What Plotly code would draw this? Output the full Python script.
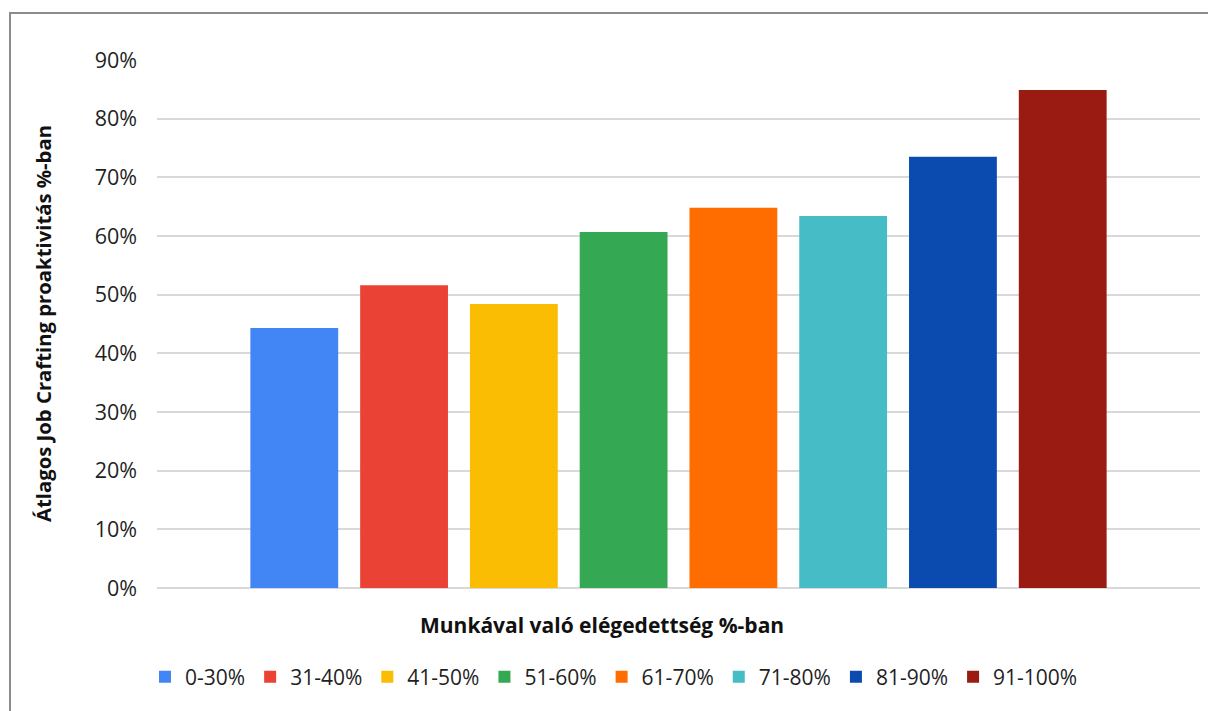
import plotly.graph_objects as go

# ---- data ----
groups = ["0-30%", "31-40%", "41-50%", "51-60%", "61-70%", "71-80%", "81-90%", "91-100%"]
values = [0.443, 0.516, 0.484, 0.607, 0.648, 0.634, 0.735, 0.849]
colors = ["#4285F4", "#EA4335", "#FBBC04", "#34A853", "#FF6D01", "#46BDC6", "#0B4BB0", "#9A1B11"]
category = ["Munkával való elégedettség"]
y_ticks = [0, 0.1, 0.2, 0.3, 0.4, 0.5, 0.6, 0.7, 0.8, 0.9]

x_title = "Munkával való elégedettség %-ban"
y_title = "Átlagos Job Crafting proaktivitás %-ban"

# ---- layout geometry (pixels) ----
W, H = 1208, 711
ML, MR, MT, MB = 157, 8, 60, 123
PW, PH = W - ML - MR, H - MT - MB


def px_x(p):
    return (p - ML) / PW


def px_y(p):
    return (H - MB - p) / PH


FONT = "Open Sans"
TXT = "#1f1f1f"

fig = go.Figure()
for g, v, c in zip(groups, values, colors):
    fig.add_trace(go.Bar(x=category, y=[v], name=g, marker=dict(color=c, line=dict(width=0))))

fig.update_layout(
    width=W, height=H,
    margin=dict(l=ML, r=MR, t=MT, b=MB),
    paper_bgcolor="white", plot_bgcolor="white",
    barmode="group", bargap=0.158, bargroupgap=0.2,
    font=dict(family=FONT, size=21, color=TXT),
    showlegend=True,
    legend=dict(orientation="h", x=px_x(614), xanchor="center", y=px_y(677), yanchor="middle",
                font=dict(family=FONT, size=21, color=TXT), traceorder="normal",
                itemclick=False, bgcolor="rgba(0,0,0,0)"),
    xaxis=dict(showticklabels=False, showgrid=False, zeroline=False, showline=False, ticks=""),
    yaxis=dict(range=[0, 0.9], tickvals=y_ticks, tickformat=".0%", showgrid=True,
               gridcolor="#d9d9d9", gridwidth=2, zeroline=True, zerolinecolor="#d9d9d9",
               zerolinewidth=2, showline=False, ticks="", ticklabelstandoff=19,
               tickfont=dict(family=FONT, size=21.5, color=TXT)),
    annotations=[
        dict(text="<b>" + y_title + "</b>", xref="paper", yref="paper", x=px_x(43), y=0.5,
             xanchor="center", yanchor="middle", textangle=-90, showarrow=False,
             font=dict(family=FONT, size=20.3, color="#111111")),
        dict(text="<b>" + x_title + "</b>", xref="paper", yref="paper", x=px_x(602), y=px_y(625),
             xanchor="center", yanchor="middle", showarrow=False,
             font=dict(family=FONT, size=21, color="#111111")),
    ],
    shapes=[
        dict(type="rect", xref="paper", yref="paper", x0=px_x(10), x1=px_x(W + 20),
             y0=px_y(H + 20), y1=px_y(13), line=dict(color="#8c8c8c", width=2),
             fillcolor="rgba(0,0,0,0)", layer="below"),
    ],
)

fig.write_html("out.html")
